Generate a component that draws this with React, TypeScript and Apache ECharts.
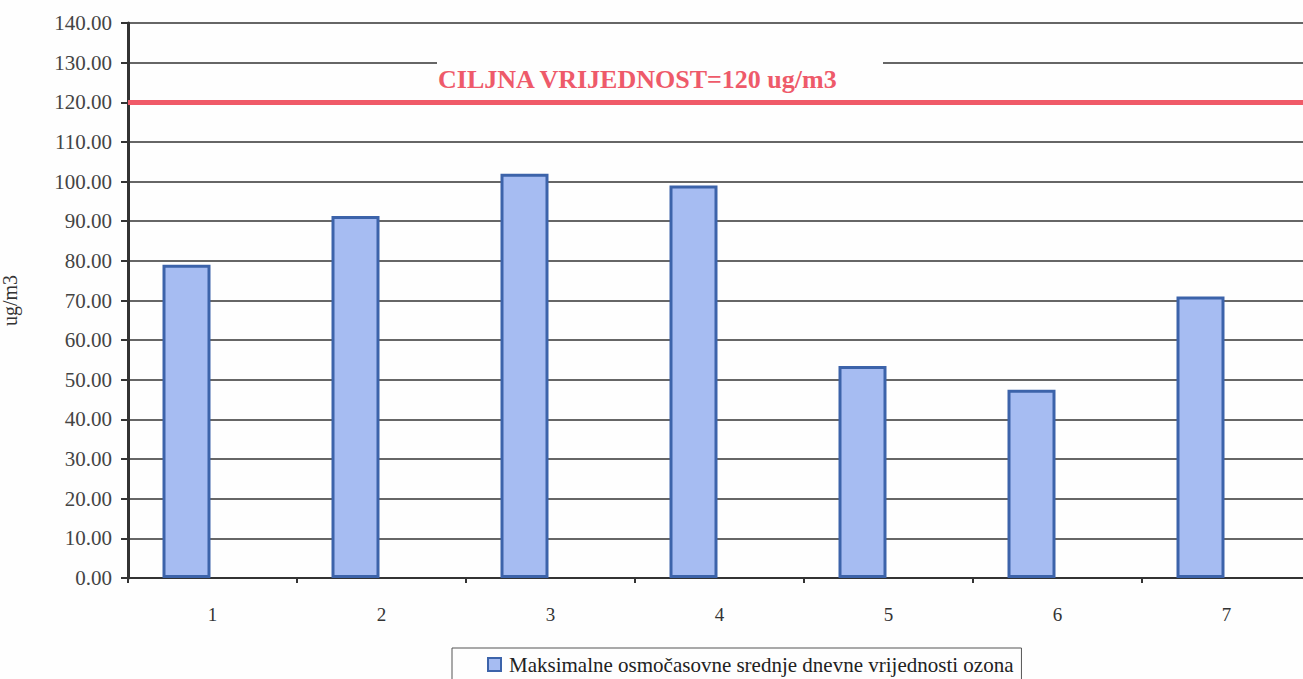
import React, { useEffect, useRef } from "react";
import * as echarts from "echarts";

const categories = ["1", "2", "3", "4", "5", "6", "7"];
const ozoneValues = [79, 91.3, 102, 99, 53.5, 47.5, 71];
const targetValue = 120;
const seriesName = "Maksimalne osmočasovne srednje dnevne vrijednosti ozona";
const targetLabel = "CILJNA VRIJEDNOST=120 ug/m3";
const yAxisName = "ug/m3";

export default function App() {
  const ref = useRef<HTMLDivElement>(null);
  useEffect(() => {
    const chart = echarts.init(ref.current!, null, { renderer: "svg" });
    const serif = "Liberation Serif";
    chart.setOption({
      animation: false,
      backgroundColor: "#fefefe",
      textStyle: { fontFamily: serif },
      grid: {
        left: 128,
        top: 23,
        width: 1183,
        height: 555,
        containLabel: false,
        outerBoundsMode: "none",
      },
      legend: {
        top: 648,
        left: 452,
        padding: [6, 8, 8, 35],
        borderColor: "#555",
        borderWidth: 1,
        icon: "rect",
        itemWidth: 13,
        itemHeight: 13,
        itemGap: 0,
        textStyle: { fontFamily: serif, fontSize: 21, color: "#222", padding: [0, 0, 0, 3] },
        data: [seriesName],
      },
      xAxis: {
        type: "category",
        data: categories,
        axisLine: { lineStyle: { color: "#333", width: 2 } },
        axisTick: { show: true, length: 5, lineStyle: { color: "#333", width: 2 } },
        axisLabel: { fontFamily: serif, fontSize: 19, color: "#333", margin: 27 },
      },
      yAxis: {
        type: "value",
        min: 0,
        max: 140,
        interval: 10,
        name: yAxisName,
        nameLocation: "middle",
        nameGap: 108,
        nameRotate: 90,
        nameTextStyle: { fontFamily: serif, fontSize: 20, color: "#333" },
        axisLine: { show: true, lineStyle: { color: "#333", width: 3 } },
        axisTick: { show: true, length: 7, lineStyle: { color: "#333", width: 2 } },
        axisLabel: {
          fontFamily: serif,
          fontSize: 21,
          color: "#444",
          margin: 16,
          formatter: (v: number) => v.toFixed(2),
        },
        splitLine: { lineStyle: { color: "#333", width: 1.5 } },
      },
      series: [
        {
          name: seriesName,
          type: "bar",
          data: ozoneValues,
          barWidth: 48,
          barGap: "0%",
          itemStyle: { color: "#a6bcf2", borderColor: "#3c63aa", borderWidth: 3 },
          markLine: {
            symbol: "none",
            silent: true,
            data: [{ yAxis: targetValue }],
            lineStyle: { color: "#f05a68", width: 5, type: "solid" },
            label: { show: false },
          },
        },
        {
          name: "spacer",
          type: "bar",
          data: [],
          barWidth: 52,
          barGap: "0%",
          silent: true,
          itemStyle: { color: "transparent" },
        },
      ],
      graphic: [
        {
          type: "rect",
          shape: { x: 437, y: 58, width: 446, height: 32 },
          style: { fill: "#fefefe" },
          z: 100,
        },
        {
          type: "text",
          left: 438,
          top: 66,
          style: {
            text: targetLabel,
            fill: "#ee5a6a",
            fontFamily: serif,
            fontWeight: "bold",
            fontSize: 26,
          },
          z: 101,
        },
      ],
    });
    return () => chart.dispose();
  }, []);
  return (
    <div
      ref={ref}
      style={{ position: "absolute", left: 0, top: 0, width: 1303, height: 679 }}
    />
  );
}
